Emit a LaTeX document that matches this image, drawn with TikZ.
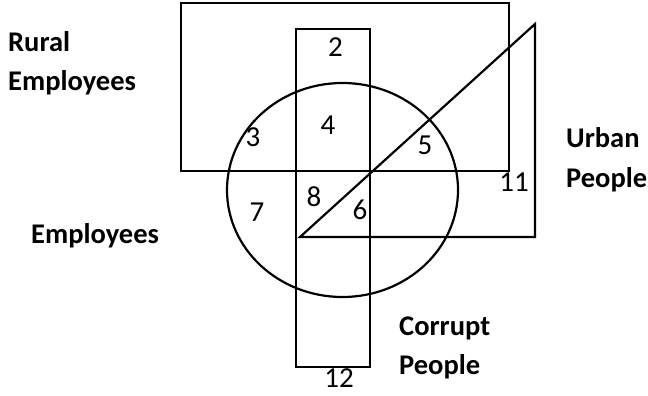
\documentclass[tikz,border=0pt]{standalone}
\usepackage{fontspec}
\setmainfont{Carlito}
\begin{document}
\begin{tikzpicture}[x=1pt,y=-1pt,
  edge/.style={line width=2.2pt, line join=miter},
  num/.style={font=\fontsize{29}{31}\selectfont, inner sep=0pt, anchor=center},
  lbl/.style={font=\bfseries\fontsize{28.5}{30}\selectfont, inner sep=0pt, anchor=base west}]
\useasboundingbox (0,0) rectangle (648,396);
% sets
\coordinate (R1) at (181,3);
\coordinate (R2) at (509,171);
\coordinate (C1) at (296,29);
\coordinate (C2) at (370,367);
\coordinate (E0) at (342.5,190);
\coordinate (T1) at (300,237);
\coordinate (T2) at (535,24);
\coordinate (T3) at (535,237);
\draw[edge] (R1) rectangle (R2);
\draw[edge] (C1) rectangle (C2);
\draw[edge] (E0) ellipse [x radius=115.5, y radius=107];
\draw[edge] (T1) -- (T2) -- (T3) -- cycle;
% region numbers
\node[num] (n2) at (335.5,47.5) {2};
\node[num] (n4) at (328,125) {4};
\node[num] (n3) at (253,137) {3};
\node[num] (n5) at (425,145) {5};
\node[num] (n11) at (514,182) {11};
\node[num] (n8) at (314,197) {8};
\node[num] (n6) at (360,210) {6};
\node[num] (n7) at (257,212) {7};
\node[num] (n12) at (339,378.5) {12};
% set labels
\node[lbl] (l1) at (8,52) {Rural};
\node[lbl] (l2) at (8,91) {Employees};
\node[lbl] (l3) at (31,243) {Employees};
\node[lbl] (l4) at (566,147) {Urban};
\node[lbl] (l5) at (566,187) {People};
\node[lbl] (l6) at (399,335) {Corrupt};
\node[lbl] (l7) at (399,374) {People};
\end{tikzpicture}
\end{document}
